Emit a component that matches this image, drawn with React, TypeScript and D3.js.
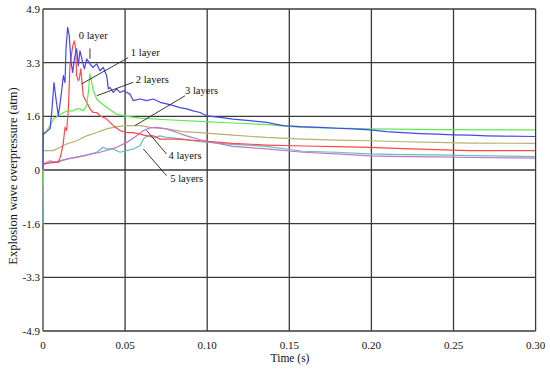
import React from "react";
import * as d3 from "d3";

const W = 550;
const H = 371;

const xTicks = [0, 0.05, 0.1, 0.15, 0.2, 0.25, 0.3];
const xTickLabels = ["0", "0.05", "0.10", "0.15", "0.20", "0.25", "0.30"];
const yTicks = [4.9, 3.2667, 1.6333, 0, -1.6333, -3.2667, -4.9];
const yTickLabels = ["4.9", "3.3", "1.6", "0", "-1.6", "-3.3", "-4.9"];

type P = [number, number];

const layer0: P[] = [
  [0, 0], [0.0002, 1.14], [0.0006, 1.1], [0.0043, 1.26], [0.0053, 1.75], [0.0067, 2.66], [0.0079, 2.17],
  [0.0093, 1.65], [0.0108, 2.17], [0.0124, 2.87], [0.0134, 2.66], [0.014, 3.69], [0.015, 4.34],
  [0.016, 4.08], [0.0171, 3.27], [0.0181, 2.97], [0.0191, 3.38], [0.0205, 3.69], [0.0215, 3.17],
  [0.0225, 3.63], [0.0242, 3.27], [0.0252, 3.08], [0.0266, 3.38], [0.0286, 3.23], [0.0303, 3.12],
  [0.0327, 3.23], [0.0347, 3.02], [0.0367, 3.12], [0.0388, 2.87], [0.0398, 2.47], [0.0408, 2.51],
  [0.0428, 2.36], [0.0449, 2.47], [0.0469, 2.36], [0.0489, 2.41], [0.051, 2.36], [0.053, 2.31],
  [0.055, 2.11], [0.0591, 2.16], [0.0632, 2.11], [0.0672, 2.16], [0.0713, 2.06], [0.0753, 2.01],
  [0.0794, 1.96], [0.0834, 1.9], [0.0875, 1.86], [0.0915, 1.8], [0.0956, 1.75], [0.0997, 1.65],
  [0.1078, 1.6], [0.1157, 1.55], [0.1261, 1.5], [0.1362, 1.45], [0.1462, 1.35], [0.1565, 1.32],
  [0.1687, 1.3], [0.1789, 1.27], [0.1888, 1.25], [0.1991, 1.22], [0.2093, 1.17], [0.2192, 1.14],
  [0.2296, 1.11], [0.2398, 1.09], [0.2497, 1.07], [0.2601, 1.06], [0.2702, 1.04], [0.2801, 1.03],
  [0.2996, 1.02],
];

const layer1: P[] = [
  [0, 0], [0.0002, 0.18], [0.0043, 0.22], [0.0093, 0.23], [0.0108, 0.43], [0.0124, 0.84], [0.0134, 1.3],
  [0.0144, 1.2], [0.0154, 1.8], [0.0164, 3.17], [0.0181, 3.78], [0.0191, 3.93], [0.0199, 3.69],
  [0.0205, 2.87], [0.0215, 2.72], [0.0221, 2.78], [0.023, 3.08], [0.0245, 2.26], [0.0266, 2.06],
  [0.0286, 1.86], [0.0306, 1.75], [0.0327, 1.75], [0.0347, 1.65], [0.0388, 1.55], [0.0428, 1.35],
  [0.0469, 1.2], [0.051, 1.14], [0.055, 1.14], [0.0591, 1.09], [0.0632, 1.04], [0.0672, 1.04],
  [0.0713, 0.94], [0.0814, 0.94], [0.0956, 0.89], [0.1157, 0.81], [0.1362, 0.76], [0.1583, 0.73],
  [0.1789, 0.71], [0.1991, 0.69], [0.2192, 0.65], [0.2398, 0.62], [0.2601, 0.59], [0.2996, 0.59],
];

const layer2: P[] = [
  [0, -0.48], [0.0003, 1.1], [0.0023, 1.2], [0.0043, 1.35], [0.0063, 1.55], [0.0093, 1.65], [0.0124, 1.75],
  [0.0154, 1.8], [0.0185, 1.8], [0.0205, 1.86], [0.0225, 1.86], [0.0245, 1.8], [0.0266, 1.96],
  [0.0276, 2.36], [0.0286, 2.92], [0.0297, 2.66], [0.0306, 2.41], [0.0327, 2.16], [0.0347, 2.06],
  [0.0388, 1.9], [0.0449, 1.7], [0.051, 1.63], [0.0591, 1.58], [0.0753, 1.53], [0.0956, 1.48],
  [0.1157, 1.43], [0.1362, 1.38], [0.1583, 1.3], [0.1991, 1.25], [0.2398, 1.23], [0.2996, 1.22],
];

const layer3: P[] = [
  [0, -0.93], [0.0003, 0.59], [0.0063, 0.59], [0.0104, 0.69], [0.0144, 0.79], [0.0205, 0.89], [0.0266, 1.04],
  [0.0327, 1.14], [0.0388, 1.25], [0.0449, 1.32], [0.051, 1.35], [0.0591, 1.35], [0.0652, 1.3],
  [0.0753, 1.25], [0.0854, 1.17], [0.0956, 1.14], [0.1157, 1.06], [0.1362, 0.99], [0.1583, 0.94],
  [0.1789, 0.91], [0.1991, 0.89], [0.2192, 0.86], [0.2398, 0.84], [0.2601, 0.82], [0.2996, 0.81],
];

const layer4: P[] = [
  [0, 0], [0.0002, 0.18], [0.0043, 0.28], [0.0083, 0.23], [0.0144, 0.33], [0.0245, 0.43], [0.0347, 0.54],
  [0.0449, 0.69], [0.051, 0.84], [0.0571, 1.04], [0.0611, 1.2], [0.0652, 1.28], [0.0692, 1.3],
  [0.0753, 1.25], [0.0814, 1.14], [0.0875, 1.04], [0.0956, 0.92], [0.1058, 0.82], [0.1157, 0.72],
  [0.1362, 0.64], [0.1583, 0.54], [0.1789, 0.49], [0.1991, 0.43], [0.2192, 0.41], [0.2398, 0.4],
  [0.2601, 0.38], [0.2996, 0.36],
];

const layer5: P[] = [
  [0, -1.67], [0.0003, 0.18], [0.0063, 0.23], [0.0144, 0.33], [0.0245, 0.43], [0.0327, 0.54], [0.0367, 0.69],
  [0.0388, 0.64], [0.0428, 0.64], [0.0469, 0.54], [0.051, 0.59], [0.055, 0.64], [0.0591, 0.74],
  [0.0611, 0.94], [0.0632, 1.04], [0.0672, 0.99], [0.0713, 1.04], [0.0753, 0.99], [0.0854, 0.94],
  [0.0956, 0.86], [0.1157, 0.78], [0.1362, 0.72], [0.1583, 0.57], [0.1789, 0.54], [0.1991, 0.49],
  [0.2192, 0.47], [0.2398, 0.46], [0.2601, 0.44], [0.2996, 0.41],
];

const seriesNames = ["0 layer", "1 layer", "2 layers", "3 layers", "4 layers", "5 layers"];
const seriesData = [layer0, layer1, layer2, layer3, layer4, layer5];
const seriesColors = ["#4646ee", "#ff4848", "#5eea50", "#b8b070", "#bb77cc", "#66bcbc"];
// draw order: back to front
const drawOrder = [3, 5, 4, 1, 2, 0];

// annotation: label anchor (data) and leader line (data coords: from, to)
const annText: P[] = [
  [0.0218, 4.0], [0.0535, 3.48], [0.0565, 2.66], [0.0865, 2.3], [0.0765, 0.32], [0.0775, -0.35],
];
const annLineFrom: P[] = [
  [0.0286, 3.7], [0.0519, 3.42], [0.0550, 2.67], [0.0865, 2.26], [0.0752, 0.49], [0.0752, -0.17],
];
const annLineTo: P[] = [
  [0.0286, 3.39], [0.0235, 2.62], [0.0327, 2.26], [0.0560, 1.35], [0.0632, 1.2], [0.0611, 0.64],
];

const margin = { left: 43, right: 14.4, top: 9, bottom: 40 };

export default function App() {
  const x = d3.scaleLinear().domain([0, 0.3]).range([margin.left, W - margin.right]);
  const y = d3.scaleLinear().domain([-4.9, 4.9]).range([H - margin.bottom, margin.top]);
  const line = d3
    .line<P>()
    .x((d) => x(d[0]))
    .y((d) => y(d[1]));
  const font = "'Liberation Serif', 'Times New Roman', serif";
  const grid = "#3a3a3a";

  return (
    <svg width={W} height={H} style={{ position: "absolute", left: 0, top: 0, background: "#fff" }}>
      <rect x={0} y={0} width={W} height={H} fill="#fff" />
      {xTicks.map((t, i) => (
        <line key={"gx" + i} x1={x(t)} x2={x(t)} y1={y(4.9)} y2={y(-4.9)} stroke={grid} strokeWidth={1.3} />
      ))}
      {yTicks.map((t, i) => (
        <line key={"gy" + i} x1={x(0)} x2={x(0.3)} y1={y(t)} y2={y(t)} stroke={grid} strokeWidth={1.3} />
      ))}
      {drawOrder.map((k) => (
        <path key={"s" + k} d={line(seriesData[k]) || ""} fill="none" stroke={seriesColors[k]} strokeWidth={1.2} strokeLinejoin="round" />
      ))}
      {seriesNames.map((n, i) => (
        <g key={"a" + i}>
          <line
            x1={x(annLineFrom[i][0])}
            y1={y(annLineFrom[i][1])}
            x2={x(annLineTo[i][0])}
            y2={y(annLineTo[i][1])}
            stroke="#222"
            strokeWidth={0.9}
          />
          <text x={x(annText[i][0])} y={y(annText[i][1])} fontFamily={font} fontSize={10.5} fill="#111">
            {n}
          </text>
        </g>
      ))}
      {xTicks.map((t, i) => (
        <text key={"xt" + i} x={x(t)} y={H - margin.bottom + 18} textAnchor="middle" fontFamily={font} fontSize={11} fill="#111">
          {xTickLabels[i]}
        </text>
      ))}
      {yTicks.map((t, i) => (
        <text key={"yt" + i} x={x(0) - 3} y={y(t) + 4} textAnchor="end" fontFamily={font} fontSize={11} fill="#111">
          {yTickLabels[i]}
        </text>
      ))}
      <text x={290} y={362} textAnchor="middle" fontFamily={font} fontSize={11.5} fill="#111">
        Time (s)
      </text>
      <text
        transform={`translate(17, ${176}) rotate(-90)`}
        textAnchor="middle"
        fontFamily={font}
        fontSize={12.5}
        fill="#111"
      >
        Explosion wave overpressure (atm)
      </text>
    </svg>
  );
}
